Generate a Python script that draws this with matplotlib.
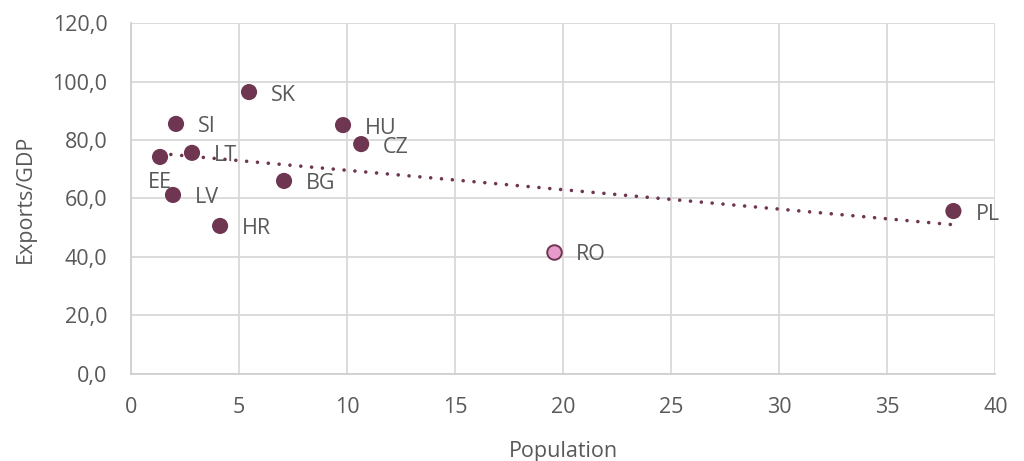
import numpy as np
import matplotlib
matplotlib.use("Agg")
import matplotlib.pyplot as plt
from matplotlib.ticker import FuncFormatter

countries = ["EE", "SI", "LT", "LV", "SK", "HR", "BG", "HU", "CZ", "RO", "PL"]
population = [1.34, 2.08, 2.82, 1.94, 5.46, 4.12, 7.08, 9.81, 10.65, 19.58, 38.06]
exports_gdp = [74.2, 85.5, 75.6, 61.2, 96.4, 50.6, 66.0, 85.1, 78.6, 41.7, 55.7]
highlight = ["RO"]

plt.rcParams['font.family'] = ['Open Sans', 'DejaVu Sans']
text_col = "#595959"
dark = "#6F3651"
pink = "#E79BCB"
fs = 15.5

fig = plt.figure(figsize=(10.24, 4.61), dpi=100)
ax = fig.add_axes([0.128, 0.189, 0.844, 0.761])

x = np.array(population)
y = np.array(exports_gdp)

# linear trendline fitted on all points
coef = np.polyfit(x, y, 1)
tx = np.array([x.min(), x.max()])
ax.plot(tx, np.polyval(coef, tx), color=dark, linewidth=2.6,
        linestyle=(0, (0.01, 3.0)), dash_capstyle='round', zorder=2)

for c, xi, yi in zip(countries, population, exports_gdp):
    if c in highlight:
        ax.scatter([xi], [yi], s=110, color=pink, edgecolor=dark, linewidth=1.4, zorder=3)
    else:
        ax.scatter([xi], [yi], s=135, color=dark, edgecolor='none', zorder=3)
    if c == "EE":
        ax.annotate(c, (xi, yi), xytext=(0, -26), textcoords='offset pixels',
                    ha='center', va='center', fontsize=fs, color=text_col)
    else:
        ax.annotate(c, (xi, yi), xytext=(22, -3), textcoords='offset pixels',
                    ha='left', va='center', fontsize=fs, color=text_col)

ax.set_xlim(0, 40)
ax.set_ylim(0, 120)
ax.set_xticks(np.arange(0, 41, 5))
ax.set_yticks(np.arange(0, 121, 20))
ax.yaxis.set_major_formatter(FuncFormatter(lambda v, p: f"{v:.1f}".replace(".", ",")))
ax.grid(True, color="#D9D9D9", linewidth=1.3)
ax.set_axisbelow(True)
for s in ['top', 'right']:
    ax.spines[s].set_visible(False)
for s in ['left', 'bottom']:
    ax.spines[s].set_color("#D0D0D0")
    ax.spines[s].set_linewidth(1.3)
ax.tick_params(axis='y', length=0, labelsize=fs, labelcolor=text_col, pad=17)
ax.tick_params(axis='x', length=0, labelsize=fs, labelcolor=text_col, pad=17)
ax.set_xlabel("Population", fontsize=fs, color=text_col, labelpad=16)
ax.set_ylabel("Exports/GDP", fontsize=fs, color=text_col, labelpad=12)

fig.savefig("out.png", dpi=100)
